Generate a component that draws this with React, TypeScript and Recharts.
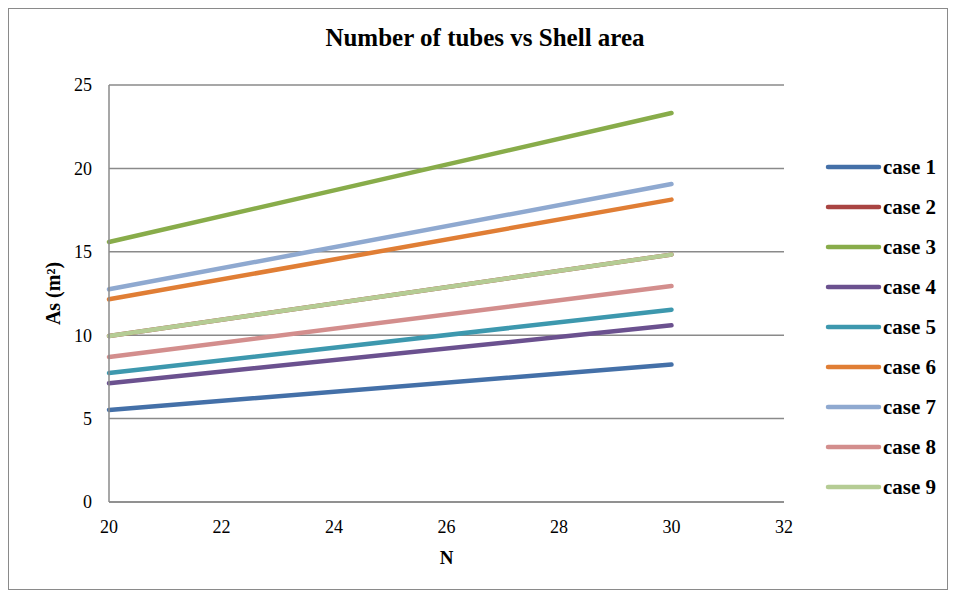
import React from "react";
import { LineChart, Line, XAxis, YAxis, CartesianGrid, Label } from "recharts";

// N values and shell area (m²)
const nValues = [20, 30];
const case1 = [5.52, 8.24];
const case2 = [9.95, 14.83];
const case3 = [15.59, 23.32];
const case4 = [7.12, 10.59];
const case5 = [7.73, 11.53];
const case6 = [12.15, 18.13];
const case7 = [12.75, 19.06];
const case8 = [8.69, 12.95];
const case9 = [9.95, 14.83];

const caseNames = ["case 1", "case 2", "case 3", "case 4", "case 5", "case 6", "case 7", "case 8", "case 9"];
const caseValues = [case1, case2, case3, case4, case5, case6, case7, case8, case9];
const caseColors = ["#4470a8", "#a94442", "#88ac4a", "#6b518f", "#3d98ae", "#e07e35", "#8fa9d0", "#d38e8d", "#b5cc94"];

const xTicks = [20, 22, 24, 26, 28, 30, 32];
const yTicks = [0, 5, 10, 15, 20, 25];

const data = nValues.map((n, i) => {
  const row: Record<string, number> = { n };
  caseNames.forEach((name, k) => {
    row[name] = caseValues[k][i];
  });
  return row;
});

const serif = "Liberation Serif, Times New Roman, serif";
const axisGray = "#8a8a8a";

function YTitle(props: any) {
  const vb = props.viewBox;
  const x = 53 - 9;
  const y = vb.y + vb.height / 2;
  return (
    <text
      x={x}
      y={y}
      transform={`rotate(-90 ${x} ${y})`}
      textAnchor="middle"
      dominantBaseline="central"
      style={{ fontFamily: serif, fontWeight: "bold", fontSize: 20 }}
      fill="#000"
    >
      As (m²)
    </text>
  );
}

function LegendList() {
  return (
    <div style={{ position: "absolute", left: 816, top: 138, fontFamily: serif }}>
      {caseNames.map((name, i) => (
        <div key={name} style={{ height: 40, display: "flex", alignItems: "center" }}>
          <svg width={58} height={10}>
            <line x1={3} y1={5} x2={54} y2={5} stroke={caseColors[i]} strokeWidth={4.5} strokeLinecap="round" />
          </svg>
          <span style={{ fontWeight: "bold", fontSize: 21, color: "#000" }}>{name}</span>
        </div>
      ))}
    </div>
  );
}

const tickStyle = { fill: "#000", fontSize: 18, fontFamily: serif };

export default function App() {
  return (
    <div style={{ position: "relative", width: 938, height: 580, border: `1px solid ${axisGray}`, fontFamily: serif }}>
      <div
        style={{
          position: "absolute",
          left: 0,
          width: 938,
          top: 15,
          textAlign: "center",
          fontWeight: "bold",
          fontSize: 25,
          paddingLeft: 14,
          boxSizing: "border-box",
        }}
      >
        Number of tubes vs Shell area
      </div>
      <LineChart
        width={938}
        height={580}
        data={data}
        style={{ fontFamily: serif }}
        margin={{ top: 76, right: 163, left: 30, bottom: 17 }}
      >
        <CartesianGrid vertical={false} stroke={axisGray} strokeWidth={1.5} />
        <XAxis
          dataKey="n"
          type="number"
          domain={[20, 32]}
          ticks={xTicks}
          axisLine={{ stroke: axisGray, strokeWidth: 1.5 }}
          tickLine={false}
          tickMargin={12}
          height={70}
          tick={tickStyle}
        >
          <Label value="N" position="insideBottom" offset={8} style={{ fontFamily: serif, fontWeight: "bold", fontSize: 19, fill: "#000" }} />
        </XAxis>
        <YAxis
          type="number"
          domain={[0, 25]}
          ticks={yTicks}
          axisLine={{ stroke: axisGray, strokeWidth: 1.5 }}
          tickLine={false}
          tickMargin={11}
          width={70}
          tick={tickStyle}
        >
          <Label content={<YTitle />} />
        </YAxis>
        {caseNames.map((name, i) => (
          <Line
            key={name}
            dataKey={name}
            stroke={caseColors[i]}
            strokeWidth={4.5}
            strokeLinecap="round"
            dot={false}
            activeDot={false}
            isAnimationActive={false}
          />
        ))}
      </LineChart>
      <LegendList />
    </div>
  );
}
